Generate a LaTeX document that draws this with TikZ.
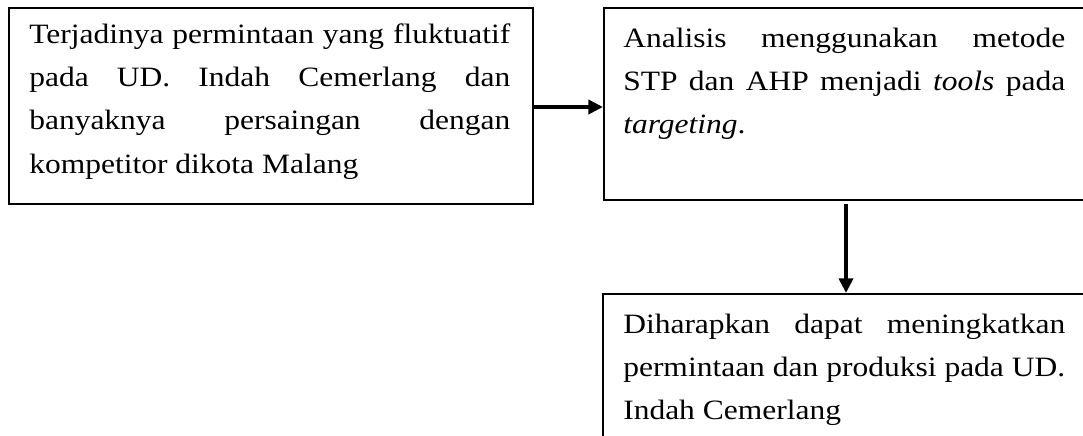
\documentclass[tikz,border=0pt]{standalone}
\usepackage{fontspec}
\setmainfont{Liberation Serif}[FakeStretch=1.125]
\usetikzlibrary{arrows.meta}
\newcommand{\jl}[1]{\makebox[\linewidth][s]{#1}\\}
\newcommand{\bodytext}[2]{\parbox[t]{#1}{\fontsize{21pt}{32.5pt}\selectfont #2}}
\begin{document}
\begin{tikzpicture}[x=0.75pt,y=-0.75pt,
  boxnode/.style={draw=black, line width=1.5pt, inner sep=0pt, anchor=north west},
  textnode/.style={inner sep=0pt, anchor=base west},
  flowarrow/.style={line width=3pt, -{Triangle[length=11pt,width=10.5pt]}}]
\useasboundingbox (0,0) rectangle (1083,436);
\fill[white] (0,0) rectangle (1083,436);
\clip (0,0) rectangle (1083,436);
% boxes
\node[boxnode, minimum width=393pt, minimum height=147pt] (b1) at (8,7) {};
\node[boxnode, minimum width=369pt, minimum height=144pt] (b2) at (603,7) {};
\node[boxnode, minimum width=369.75pt, minimum height=125.25pt] (b3) at (602,293) {};
% texts
\node[textnode] (t1) at (29,43) {\bodytext{360.75pt}{%
\jl{Terjadinya permintaan yang fluktuatif}
\jl{pada UD. Indah Cemerlang dan}
\jl{banyaknya persaingan dengan}
kompetitor dikota Malang}};
\node[textnode] (t2) at (623,47) {\bodytext{331.5pt}{%
\jl{Analisis menggunakan metode}
\jl{STP dan AHP menjadi \textit{tools} pada}
\textit{targeting}.}};
\node[textnode] (t3) at (623,333) {\bodytext{331.5pt}{%
\jl{Diharapkan dapat meningkatkan}
\jl{permintaan dan produksi pada UD.}
Indah Cemerlang}};
% connectors
\coordinate (a1) at (0,107);
\coordinate (a2) at (846,204);
\draw[flowarrow] (b1.east |- a1) -- (b2.west |- a1);
\draw[flowarrow] (a2) -- (a2 |- b3.north);
\end{tikzpicture}
\end{document}
